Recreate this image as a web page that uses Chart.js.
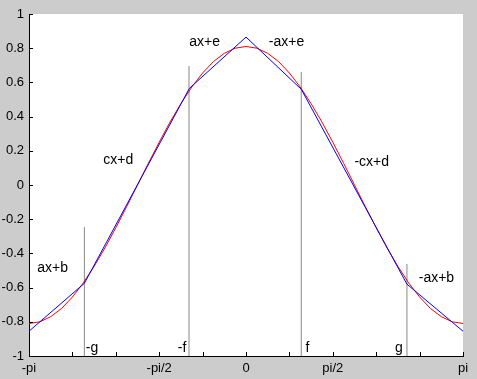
<!DOCTYPE html>
<html>
<head>
<meta charset="utf-8">
<script src="https://cdn.jsdelivr.net/npm/chart.js@4/dist/chart.umd.min.js"></script>
<style>
  html, body { margin: 0; padding: 0; background: #cccccc; }
  #wrap { width: 477px; height: 379px; }
</style>
</head>
<body>
<div id="wrap"><canvas id="ctx" width="477" height="379"></canvas></div>
<script>
const $chart = document.getElementById('ctx')

// x ticks every pi/5, only some labelled
const xTicks = [-3.1416, -2.5133, -1.885, -1.2566, -0.6283, 0, 0.6283, 1.2566, 1.885, 2.5133, 3.1416]
const xTickLabels = ['-pi', '', '', '-pi/2', '', '0', '', 'pi/2', '', '', 'pi']

// red curve
const redX = [-3.142, -2.985, -2.827, -2.670, -2.513, -2.356, -2.199, -2.042, -1.885, -1.728, -1.571,
              -1.414, -1.257, -1.100, -0.942, -0.785, -0.628, -0.471, -0.314, -0.157, 0,
              0.157, 0.314, 0.471, 0.628, 0.785, 0.942, 1.100, 1.257, 1.414, 1.571,
              1.728, 1.885, 2.042, 2.199, 2.356, 2.513, 2.670, 2.827, 2.985, 3.142]
const redY = [-0.810, -0.800, -0.770, -0.722, -0.655, -0.573, -0.476, -0.368, -0.250, -0.127, 0.000,
              0.127, 0.250, 0.368, 0.476, 0.573, 0.655, 0.722, 0.770, 0.800, 0.810,
              0.800, 0.770, 0.722, 0.655, 0.573, 0.476, 0.368, 0.250, 0.127, 0.000,
              -0.127, -0.250, -0.368, -0.476, -0.573, -0.655, -0.722, -0.770, -0.800, -0.810]

// blue piecewise linear approximation
const blueX = [-3.1416, -2.34, -0.82, 0, 0.80, 2.33, 3.1416]
const blueY = [-0.855, -0.575, 0.565, 0.865, 0.56, -0.58, -0.855]

// gray markers at -g, -f, f, g
const markX = [-2.34, -0.825, 0.80, 2.33]
const markTop = [-0.246, 0.696, 0.66, -0.462]

// text labels
const noteText = ['ax+e', '-ax+e', 'cx+d', '-cx+d', 'ax+b', '-ax+b', '-g', '-f', 'f', 'g']
const noteX = [-0.60, 0.586, -1.85, 1.82, -2.80, 2.757, -2.23, -0.926, 0.89, 2.214]
const noteY = [0.836, 0.836, 0.146, 0.135, -0.485, -0.544, -0.953, -0.953, -0.953, -0.953]

const fillChart = {
    id: 'bgFill',
    beforeDraw: (chart) => {
        const {ctx, chartArea} = chart
        ctx.save()
        ctx.fillStyle = '#cccccc'
        ctx.fillRect(0, 0, chart.width, chart.height)
        ctx.fillStyle = '#ffffff'
        ctx.fillRect(chartArea.left, chartArea.top, chartArea.right - chartArea.left, chartArea.bottom - chartArea.top)
        ctx.restore()
    }
}

const innerTicks = {
    id: 'innerTicks',
    afterDraw: (chart) => {
        const {ctx, chartArea} = chart
        const xs = chart.scales.x
        const ys = chart.scales.y
        ctx.save()
        ctx.strokeStyle = '#000000'
        ctx.lineWidth = 1
        ctx.beginPath()
        xTicks.forEach(v => {
            const px = Math.round(xs.getPixelForValue(v)) + 0.5
            ctx.moveTo(px, chartArea.bottom)
            ctx.lineTo(px, chartArea.bottom - 4)
        })
        ys.ticks.forEach(t => {
            const py = Math.round(ys.getPixelForValue(t.value)) + 0.5
            ctx.moveTo(chartArea.left, py)
            ctx.lineTo(chartArea.left + 4, py)
        })
        ctx.stroke()
        ctx.restore()
    }
}

const notes = {
    id: 'notes',
    afterDatasetsDraw: (chart) => {
        const {ctx} = chart
        const xs = chart.scales.x
        const ys = chart.scales.y
        ctx.save()
        ctx.fillStyle = '#000000'
        ctx.font = '14px "Liberation Sans", Arial, sans-serif'
        ctx.textAlign = 'center'
        ctx.textBaseline = 'middle'
        noteText.forEach((t, i) => {
            ctx.fillText(t, xs.getPixelForValue(noteX[i]), ys.getPixelForValue(noteY[i]))
        })
        ctx.restore()
    }
}

const datasets = [
    {
        data: blueX.map((x, i) => ({x: x, y: blueY[i]})),
        borderColor: '#0000ff',
        borderWidth: 1,
        showLine: true,
        pointRadius: 0
    },
    {
        data: redX.map((x, i) => ({x: x, y: redY[i]})),
        borderColor: '#ff0000',
        borderWidth: 1,
        showLine: true,
        pointRadius: 0,
        tension: 0
    }
]
markX.forEach((x, i) => {
    datasets.push({
        data: [{x: x, y: -1}, {x: x, y: markTop[i]}],
        borderColor: '#888888',
        borderWidth: 1,
        showLine: true,
        pointRadius: 0
    })
})

const tickFont = {family: '"Liberation Sans", Arial, sans-serif', size: 13}

const options = {
    type: 'scatter',
    data: {datasets: datasets},
    options: {
        responsive: false,
        animation: false,
        layout: {padding: {top: 14, right: 14, left: 0, bottom: 0}},
        plugins: {
            legend: {display: false},
            tooltip: {enabled: false}
        },
        scales: {
            x: {
                type: 'linear',
                min: -3.1416,
                max: 3.1416,
                afterBuildTicks: (scale) => {
                    scale.ticks = xTicks.map(v => ({value: v}))
                },
                afterFit: (scale) => { scale.height = 23 },
                grid: {display: false, drawTicks: false},
                border: {display: true, color: '#000000', width: 1},
                ticks: {
                    autoSkip: false,
                    maxRotation: 0,
                    padding: 5,
                    color: '#000000',
                    font: tickFont,
                    callback: (value, index) => xTickLabels[index]
                }
            },
            y: {
                type: 'linear',
                min: -1,
                max: 1,
                afterFit: (scale) => { scale.width = 29 },
                grid: {display: false, drawTicks: false},
                border: {display: true, color: '#000000', width: 1},
                ticks: {
                    stepSize: 0.2,
                    padding: 5,
                    color: '#000000',
                    font: tickFont,
                    callback: (value) => String(Math.round(value * 10) / 10)
                }
            }
        }
    },
    plugins: [fillChart, innerTicks, notes]
}

var chart = new Chart($chart, options);
</script>
</body>
</html>
